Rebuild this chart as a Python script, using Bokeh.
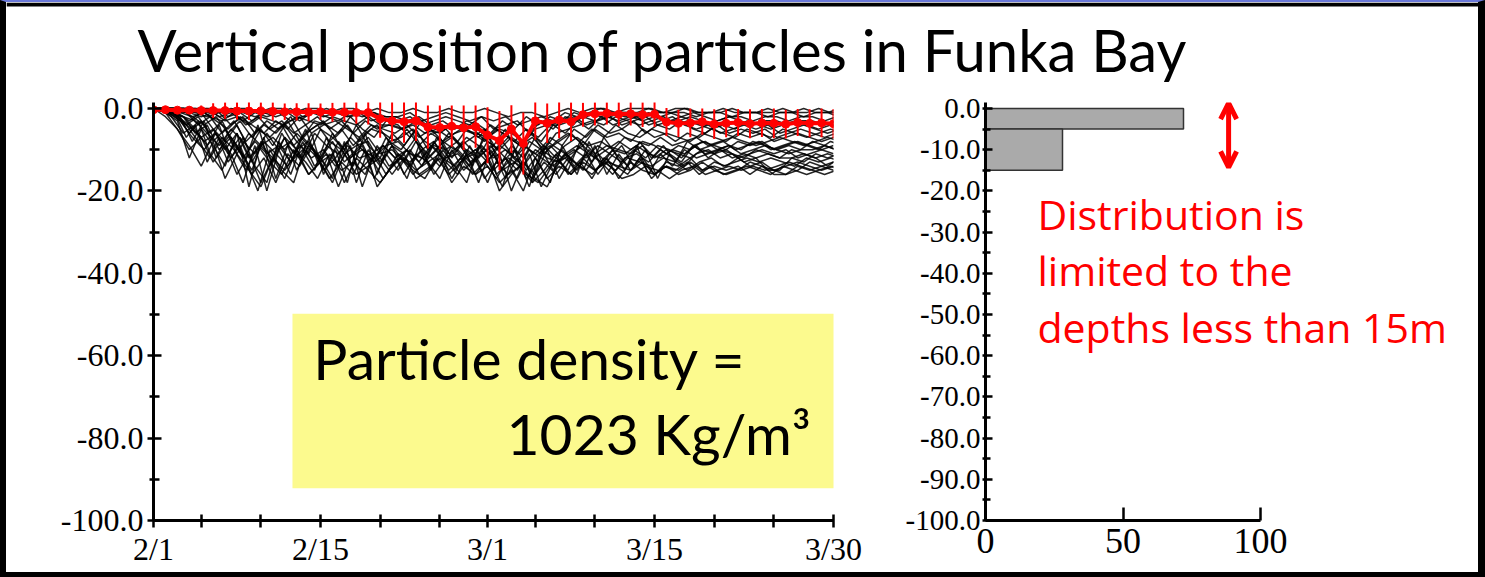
from bokeh.plotting import figure
from bokeh.layouts import column, row
from bokeh.models import (Range1d, FixedTicker, NumeralTickFormatter, Label,
                          BoxAnnotation, Arrow, OpenHead)
from bokeh.embed import file_html
from bokeh.resources import INLINE

# ---------------------------------------------------------------------------
# Data: daily particle depths (m, negative downwards), 2/1 .. 3/30
# ---------------------------------------------------------------------------
def day_offset(md):
    m, d = (int(v) for v in md.split("/"))
    return (d - 1) + (28 if m == 3 else 0)

days = list(range(58))

major_dates = ["2/1", "2/15", "3/1", "3/15", "3/30"]
minor_dates = ["2/5", "2/10", "2/20", "2/25", "3/5", "3/10", "3/20", "3/25"]

# mean depth of all particles
mean_depth = [-0.3, -0.3, -0.4, -0.4, -0.5, -0.5, -0.5, -0.6, -0.6, -0.6, -0.7,
              -0.8, -0.8, -0.9, -0.8, -0.9, -0.9, -1.0, -1.0,
              -2.5, -3.0, -3.2, -3.0,
              -4.5, -4.6, -4.3, -4.7, -4.4,
              -6.5, -7.8, -5.0, -8.5,
              -3.0, -3.6, -2.8, -3.2,
              -1.5, -1.3, -1.2, -1.4, -1.3, -1.5, -1.4,
              -3.3, -3.6, -3.5, -3.2, -3.8, -3.6, -3.4, -3.7, -3.5, -3.6, -3.8,
              -3.4, -3.6, -3.5, -3.7]

# standard deviation of the particle depths
std_depth = [0.2, 0.4, 0.6, 0.9, 1.2, 1.8, 2.0, 2.1, 2.2, 2.1, 2.2,
             2.0, 2.1, 2.2, 2.0, 2.3, 2.4, 2.7, 2.9,
             4.6, 5.0, 5.1, 4.9,
             5.2, 5.3, 5.0, 5.4, 5.1,
             6.8, 7.2, 5.8, 7.5,
             4.6, 4.8, 4.4, 4.7,
             2.9, 2.8, 2.7, 2.9, 2.8, 3.0, 3.1,
             3.4, 3.3, 3.5, 3.2, 3.6, 3.4, 3.3, 3.5, 3.4, 3.6, 3.5,
             3.3, 3.4, 3.5, 3.6]

# individual particle tracks
track_1 = [0, -1, -3, -12, -5, -9, -14, -6, -19, -8,
           -13, -7, -15, -9, -12, -17, -8, -18, -10, -14,
           -9, -16, -11, -13, -17, -10, -15, -12, -18, -11,
           -20, -13, -16, -10, -17, -12, -15, -9, -16, -11,
           -15, -12, -16, -13, -14, -12, -15, -13, -14, -12,
           -14, -13, -15, -14, -13, -14, -15, -14]
track_2 = [0, -2, -6, -4, -13, -7, -11, -18, -9, -20,
           -10, -16, -8, -14, -11, -19, -12, -9, -17, -11,
           -15, -10, -14, -8, -13, -16, -9, -14, -11, -17,
           -12, -19, -10, -15, -11, -16, -8, -14, -10, -15,
           -9, -16, -11, -14, -10, -12, -11, -10, -12, -11,
           -12, -15, -15, -12, -11, -12, -14, -12]
track_3 = [0, -1, -2, -8, -3, -12, -6, -10, -15, -7,
           -17, -9, -12, -6, -16, -10, -18, -7, -13, -9,
           -12, -17, -9, -15, -10, -14, -18, -9, -13, -19,
           -10, -17, -13, -18, -9, -14, -11, -16, -12, -9,
           -14, -10, -17, -11, -13, -9, -11, -10, -9, -11,
           -10, -9, -10, -11, -10, -10, -9, -10]
track_4 = [0, -1, -4, -2, -6, -3, -9, -12, -4, -14,
           -6, -11, -5, -13, -8, -10, -14, -6, -16, -8,
           -10, -6, -13, -7, -11, -9, -14, -6, -16, -13,
           -8, -18, -9, -12, -15, -8, -13, -7, -11, -14,
           -8, -12, -9, -13, -8, -10, -9, -8, -10, -9,
           -8, -10, -9, -8, -9, -10, -8, -9]
track_5 = [0, 0, -1, -3, -1, -5, -8, -4, -10, -5,
           -9, -4, -8, -11, -5, -7, -10, -4, -9, -12,
           -6, -9, -5, -10, -7, -12, -8, -11, -6, -14,
           -9, -12, -7, -10, -8, -6, -9, -5, -7, -6,
           -8, -5, -7, -6, -7, -8, -6, -7, -8, -6,
           -7, -6, -8, -7, -6, -7, -8, -7]
track_6 = [0, 0, 0, -1, -2, -1, -4, -2, -6, -3,
           -5, -2, -7, -3, -4, -6, -2, -5, -7, -3,
           -4, -7, -3, -6, -5, -8, -4, -7, -9, -5,
           -11, -6, -8, -4, -6, -3, -5, -2, -4, -3,
           -2, -4, -3, -2, -4, -5, -4, -6, -5, -4,
           -5, -4, -6, -5, -4, -5, -6, -5]
track_7 = [0, 0, 0, 0, -1, 0, -2, -1, -3, -1,
           -2, -1, -3, -1, -2, -1, -2, -1, -3, -2,
           -2, -3, -2, -4, -3, -5, -3, -4, -6, -3,
           -5, -2, -4, -2, -3, -1, -2, -1, -2, -1,
           -1, -2, -1, -1, -2, -1, -2, -3, -2, -2,
           -3, -2, -2, -3, -2, -2, -3, -2]
track_8 = [0, 0, 0, 0, 0, -1, 0, 0, -1, 0,
           0, -1, 0, 0, -1, 0, 0, -1, 0, -1,
           -1, 0, -1, -1, 0, -1, -1, 0, -1, -2,
           -1, -1, -2, -1, 0, -1, 0, 0, -1, 0,
           0, 0, -1, 0, 0, -1, -1, 0, -1, -1,
           -1, -1, 0, -1, -1, 0, -1, -1]
track_9 = [0, -1, -5, -10, -7, -13, -9, -16, -11, -18,
           -12, -15, -11, -16, -13, -18, -11, -16, -14, -12,
           -16, -12, -15, -13, -11, -17, -12, -16, -14, -18,
           -15, -20, -12, -17, -14, -16, -13, -15, -12, -17,
           -13, -15, -16, -14, -16, -15, -13, -15, -16, -15,
           -13, -14, -16, -16, -15, -13, -14, -13]
track_10 = [0, -1, -2, -5, -9, -4, -12, -7, -14, -18,
            -8, -13, -10, -15, -7, -14, -9, -19, -11, -16,
            -11, -14, -10, -16, -12, -11, -14, -10, -15, -12,
            -17, -11, -19, -13, -12, -15, -10, -13, -16, -12,
            -11, -13, -10, -12, -14, -11, -10, -12, -11, -13,
            -12, -11, -12, -12, -13, -11, -12, -11]
track_11 = [0, 0, -1, -2, -4, -2, -6, -3, -7, -4,
            -6, -3, -8, -5, -3, -7, -4, -8, -5, -6,
            -8, -5, -9, -6, -8, -10, -7, -9, -11, -8,
            -12, -9, -13, -7, -9, -5, -7, -4, -6, -5,
            -3, -6, -4, -5, -3, -5, -6, -4, -6, -5,
            -6, -5, -7, -6, -5, -6, -7, -6]
track_12 = [0, -1, -7, -3, -11, -15, -8, -13, -20, -10,
            -15, -18, -9, -12, -17, -13, -16, -10, -19, -15,
            -12, -15, -17, -12, -16, -13, -11, -17, -13, -16,
            -14, -18, -15, -11, -16, -13, -17, -12, -14, -16,
            -12, -17, -14, -15, -13, -16, -14, -16, -15, -14,
            -15, -16, -14, -15, -16, -15, -14, -15]
track_13 = [0, 0, -2, -6, -3, -8, -5, -11, -6, -9,
            -12, -7, -10, -8, -13, -6, -11, -9, -8, -13,
            -9, -11, -7, -12, -9, -7, -10, -13, -8, -10,
            -7, -9, -11, -8, -10, -12, -8, -11, -9, -10,
            -11, -9, -12, -10, -11, -12, -10, -11, -10, -12,
            -11, -10, -11, -10, -12, -11, -10, -11]
track_14 = [0, 0, 0, -1, 0, -2, -1, -3, -1, -2,
            -1, -3, -2, -1, -2, -3, -1, -2, -1, -3,
            -3, -2, -4, -3, -2, -3, -4, -2, -5, -4,
            -3, -6, -3, -5, -2, -3, -1, -2, -1, -2,
            -2, -1, -2, -1, -1, -2, -1, -1, -2, -1,
            -1, -2, -1, -1, -2, -1, -1, -2]
track_15 = [0, -1, -3, -7, -10, -6, -13, -9, -16, -12,
            -18, -11, -14, -9, -15, -12, -8, -15, -12, -17,
            -13, -10, -16, -14, -9, -15, -11, -18, -10, -15,
            -13, -16, -18, -14, -10, -13, -15, -11, -14, -17,
            -16, -14, -15, -17, -15, -14, -16, -15, -14, -15,
            -14, -15, -14, -13, -14, -15, -16, -15]
track_16 = [0, 0, -1, 0, -2, -3, -1, -4, -2, -5,
            -3, -6, -4, -2, -5, -3, -6, -3, -5, -4,
            -5, -4, -6, -5, -7, -5, -6, -8, -5, -7,
            -9, -7, -10, -6, -5, -4, -3, -4, -2, -3,
            -4, -3, -2, -4, -3, -4, -5, -4, -5, -3,
            -4, -5, -4, -3, -4, -5, -4, -5]
track_17 = [0, -1, -2, -4, -7, -5, -10, -6, -12, -9,
            -7, -10, -6, -9, -12, -8, -13, -10, -7, -11,
            -10, -13, -8, -11, -14, -9, -12, -10, -13, -9,
            -11, -14, -10, -12, -13, -11, -9, -12, -10, -8,
            -10, -8, -9, -11, -9, -10, -8, -9, -10, -8,
            -9, -8, -10, -9, -8, -9, -10, -9]
track_18 = [0, 0, 0, 0, -1, -1, 0, -1, -2, -1,
            -1, 0, -2, -1, 0, -1, -2, -1, -1, -2,
            -2, -1, -3, -2, -1, -2, -3, -2, -3, -2,
            -4, -3, -2, -3, -1, -2, -1, 0, -1, -1,
            -1, 0, -1, -1, 0, -1, -1, -1, 0, -1,
            -1, 0, -1, -1, 0, -1, -1, 0]
track_19 = [0, -1, -3, -5, -8, -6, -11, -7, -13, -8,
            -11, -14, -9, -12, -10, -14, -9, -12, -11, -9,
            -12, -10, -13, -9, -12, -14, -10, -12, -9, -13,
            -10, -15, -11, -9, -12, -10, -12, -9, -11, -13,
            -10, -12, -9, -10, -12, -9, -8, -10, -9, -10,
            -8, -9, -10, -9, -10, -8, -9, -10]
track_20 = [0, 0, -1, -4, -2, -6, -3, -8, -5, -7,
            -4, -9, -6, -4, -8, -5, -9, -6, -4, -8,
            -7, -5, -8, -10, -6, -9, -7, -5, -10, -7,
            -9, -6, -11, -8, -6, -8, -5, -7, -4, -6,
            -7, -5, -6, -8, -6, -7, -5, -6, -7, -5,
            -6, -7, -5, -6, -7, -6, -5, -6]
track_21 = [0, -2, -5, -9, -14, -8, -17, -11, -15, -19,
            -12, -17, -10, -16, -13, -11, -18, -12, -15, -18,
            -14, -11, -17, -15, -12, -18, -14, -16, -12, -20,
            -16, -13, -17, -19, -13, -16, -12, -15, -13, -14,
            -15, -13, -16, -14, -15, -13, -15, -14, -15, -14,
            -16, -14, -15, -16, -14, -15, -14, -15]
track_22 = [0, -1, -2, -6, -4, -10, -7, -12, -8, -11,
            -9, -13, -7, -10, -14, -8, -12, -10, -13, -7,
            -11, -13, -10, -8, -12, -10, -13, -11, -9, -12,
            -15, -10, -12, -14, -11, -9, -11, -13, -10, -11,
            -9, -11, -12, -10, -11, -9, -12, -10, -11, -12,
            -10, -11, -12, -10, -11, -12, -11, -12]
track_23 = [0, 0, 0, -2, -1, -3, -5, -2, -4, -6,
            -3, -5, -2, -6, -4, -3, -5, -7, -4, -5,
            -6, -4, -7, -5, -8, -6, -5, -7, -4, -6,
            -8, -5, -7, -4, -3, -2, -4, -3, -2, -4,
            -3, -2, -4, -3, -2, -3, -4, -3, -2, -3,
            -4, -3, -3, -4, -3, -3, -4, -3]
track_24 = [0, -1, -4, -8, -12, -7, -10, -15, -9, -13,
            -16, -10, -13, -17, -11, -15, -13, -16, -9, -14,
            -12, -16, -13, -10, -15, -12, -16, -13, -17, -12,
            -14, -17, -13, -16, -12, -14, -16, -13, -15, -12,
            -13, -14, -12, -13, -15, -13, -12, -14, -13, -12,
            -13, -12, -13, -14, -12, -13, -12, -13]
track_25 = [0, 0, -1, -1, -2, -1, -3, -2, -4, -2,
            -3, -4, -2, -3, -4, -2, -3, -4, -2, -4,
            -4, -5, -3, -5, -6, -4, -5, -6, -7, -5,
            -6, -8, -5, -4, -4, -3, -2, -3, -2, -3,
            -2, -3, -2, -3, -3, -2, -3, -4, -3, -4,
            -3, -4, -3, -4, -3, -4, -3, -4]
track_26 = [0, -1, -2, -3, -6, -9, -5, -8, -11, -6,
            -10, -8, -12, -6, -9, -11, -7, -10, -12, -9,
            -8, -11, -12, -9, -10, -8, -11, -9, -12, -10,
            -13, -8, -10, -12, -9, -7, -9, -8, -10, -7,
            -8, -9, -7, -9, -8, -7, -9, -8, -7, -8,
            -9, -8, -7, -8, -9, -8, -7, -8]
tracks = [track_1, track_2, track_3, track_4, track_5, track_6,
          track_7, track_8, track_9, track_10, track_11, track_12,
          track_13, track_14, track_15, track_16, track_17, track_18,
          track_19, track_20, track_21, track_22, track_23, track_24,
          track_25, track_26]

# share of particles (%) per depth bin
depth_top = [0, -5]
depth_bottom = [-5, -15]
share = [72, 28]
share_ticks = [0, 50, 100]

SERIF = "Liberation Serif"
RED = "#ff0000"

# vertical scale shared by both panels: 4.12 px per metre
PX_PER_M = 4.12
TOP_M = 6 / PX_PER_M          # a little head-room above the sea surface


def clean(p):
    p.grid.visible = False
    p.outline_line_color = None
    p.outline_line_alpha = 0
    p.outline_line_width = 0


# ---------------------------------------------------------------------------
# Title strip (top 4 px form the dark slide frame)
# ---------------------------------------------------------------------------
pt = figure(width=1472, height=89, x_range=Range1d(0, 1472), y_range=Range1d(0, 89),
            x_axis_type=None, y_axis_type=None, toolbar_location=None,
            output_backend="svg", min_border=0)
clean(pt)
pt.add_layout(BoxAnnotation(left=0, right=1472, bottom=85, top=89,
                            fill_color="black", fill_alpha=1, line_color=None))
pt.add_layout(Label(x=131, y=42.5, text="Vertical position of particles in Funka Bay",
                    text_font="Lato", text_font_size="58px", text_color="black",
                    text_baseline="alphabetic", text_align="left"))

# ---------------------------------------------------------------------------
# Time series of particle depth
# ---------------------------------------------------------------------------
pA = figure(width=860, height=481, x_range=Range1d(0, 57), y_range=Range1d(-100, TOP_M),
            toolbar_location=None, output_backend="svg",
            min_border_left=147, min_border_right=33, min_border_top=11,
            min_border_bottom=52)
clean(pA)

offsets = [0.0, 0.5, 0.25, 0.75]
track_xs = [[d + offsets[i % 4] for d in days] for i in range(len(tracks))]
pA.multi_line(xs=track_xs, ys=tracks, line_color="black",
              line_alpha=0.85, line_width=1.5)

upper = [m + s for m, s in zip(mean_depth, std_depth)]
lower = [m - s for m, s in zip(mean_depth, std_depth)]
pA.segment(x0=days, y0=upper, x1=days, y1=lower, line_color=RED, line_width=2)
pA.line(days, mean_depth, line_color=RED, line_width=4)
pA.scatter(days, mean_depth, size=8, color=RED)

xa = pA.xaxis[0]
xa.ticker = FixedTicker(ticks=[day_offset(s) for s in major_dates],
                        minor_ticks=[day_offset(s) for s in minor_dates])
xa.major_label_overrides = {day_offset(s): s for s in major_dates}
xa.major_tick_in, xa.major_tick_out = 6, 7
xa.minor_tick_in, xa.minor_tick_out = 6, 7
xa.major_label_standoff = 3

ya = pA.yaxis[0]
ya.ticker = FixedTicker(ticks=list(range(-100, 1, 20)), minor_ticks=list(range(-90, 0, 20)))
ya.formatter = NumeralTickFormatter(format="0.0")
ya.major_tick_in, ya.major_tick_out = 8, 6
ya.minor_tick_in, ya.minor_tick_out = 6, 4
ya.major_label_standoff = 4

for ax in (xa, ya):
    ax.axis_line_width = 3
    ax.major_tick_line_width = 2.5
    ax.minor_tick_line_width = 2.5
    ax.major_label_text_font = SERIF
    ax.major_label_text_font_size = "32px"
    ax.major_label_text_color = "black"

pA.add_layout(BoxAnnotation(left=11.65, right=57.2, top=-49.8, bottom=-92.2,
                            fill_color="#fcfa8e", fill_alpha=1, line_color=None))
pA.add_layout(Label(x=13.4, y=-60.5, text="Particle density =", text_font="Lato",
                    text_font_size="57px", text_color="black",
                    text_baseline="alphabetic", text_align="left"))
pA.add_layout(Label(x=55.1, y=-78.8, text="1023 Kg/m³", text_font="Lato",
                    text_font_size="57px", text_color="black",
                    text_baseline="alphabetic", text_align="right"))

# ---------------------------------------------------------------------------
# Depth distribution of the particles
# ---------------------------------------------------------------------------
pB = figure(width=612, height=481, x_range=Range1d(0, 485 / 2.75),
            y_range=Range1d(-100, TOP_M),
            toolbar_location=None, output_backend="svg",
            min_border_left=119, min_border_right=8, min_border_top=11,
            min_border_bottom=52)
clean(pB)

pB.quad(left=0, right=share, top=depth_top, bottom=depth_bottom,
        fill_color="#aaaaaa", line_color="#333333", line_width=1.5)

xb = pB.xaxis[0]
xb.bounds = (0, 100)
xb.ticker = FixedTicker(ticks=share_ticks, minor_ticks=[])
xb.major_tick_in, xb.major_tick_out = 13, 0
xb.major_label_standoff = 8
xb.major_label_text_font_size = "36px"

yb = pB.yaxis[0]
yb.ticker = FixedTicker(ticks=list(range(-100, 1, 10)), minor_ticks=list(range(-95, 0, 10)))
yb.formatter = NumeralTickFormatter(format="0.0")
yb.major_tick_in, yb.major_tick_out = 7, 3
yb.minor_tick_in, yb.minor_tick_out = 5, 3
yb.major_label_standoff = 2
yb.major_label_text_font_size = "29px"

for ax in (xb, yb):
    ax.axis_line_width = 3
    ax.major_tick_line_width = 2.5
    ax.minor_tick_line_width = 2.5
    ax.major_label_text_font = SERIF
    ax.major_label_text_color = "black"

pB.add_layout(Arrow(x_start=88.4, y_start=1.3, x_end=88.4, y_end=-14.3,
                    line_color=RED, line_width=5,
                    start=OpenHead(size=16, line_color=RED, line_width=5),
                    end=OpenHead(size=16, line_color=RED, line_width=5)))

for txt, yl in (("Distribution is", -25.5), ("limited to the", -39.3),
                ("depths less than 15m", -53.1)):
    pB.add_layout(Label(x=18.9, y=yl, text=txt, text_font="Open Sans",
                        text_font_size="41px", text_color=RED,
                        text_baseline="alphabetic", text_align="left"))

layout = column(pt, row(pA, pB),
                styles={"background-color": "white",
                        "border-style": "solid",
                        "border-color": "#6a78d8 black black black",
                        "border-width": "2px 7px 5px 6px"})

open("out.html", "w").write(file_html(layout, INLINE))
